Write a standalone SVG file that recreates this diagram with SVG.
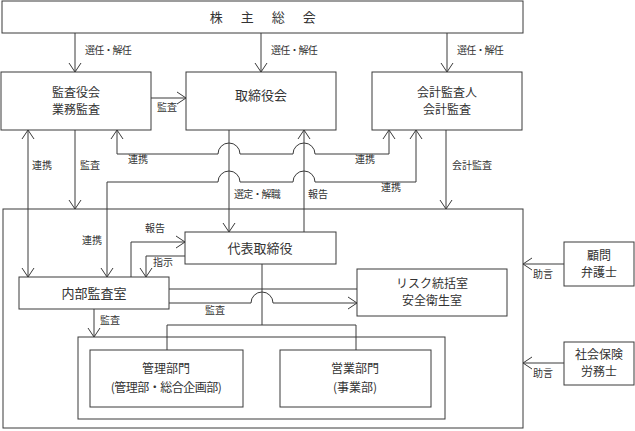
<svg xmlns="http://www.w3.org/2000/svg" width="635" height="431" viewBox="0 0 635 431">
<defs>
<style>
.box{fill:#fff;stroke:#3a3a3a;stroke-width:1}
.ln{fill:none;stroke:#3a3a3a;stroke-width:1}
.t{font-family:"Noto Sans CJK JP","Noto Sans CJK SC",sans-serif;font-size:13px;fill:#333;text-anchor:middle}
.t2{font-family:"Noto Sans CJK JP","Noto Sans CJK SC",sans-serif;font-size:12px;fill:#333;text-anchor:middle}
.s{font-family:"Noto Sans CJK JP","Noto Sans CJK SC",sans-serif;font-size:10px;fill:#333}
.n{letter-spacing:-0.8px}
</style>
<marker id="a" viewBox="-10 -7 11 14" refX="0" refY="0" markerWidth="11" markerHeight="14" markerUnits="userSpaceOnUse" orient="auto-start-reverse">
<path d="M-9,-6 L0,0 L-9,6" fill="none" stroke="#3a3a3a" stroke-width="1"/>
</marker>
</defs>
<rect width="635" height="431" fill="#fff"/>

<g id="outer"><rect class="box" x="3" y="209" width="520" height="219"/></g>
<g id="container"><rect class="box" x="78" y="337" width="367" height="82"/></g>

<g id="connectors">
<path class="ln" d="M75,33 V72" marker-end="url(#a)"/>
<path class="ln" d="M261,33 V72" marker-end="url(#a)"/>
<path class="ln" d="M447,33 V72" marker-end="url(#a)"/>
<path class="ln" d="M151,98 H186" marker-end="url(#a)"/>
<path class="ln" d="M28,130 V277" marker-start="url(#a)" marker-end="url(#a)"/>
<path class="ln" d="M75,130 V209" marker-end="url(#a)"/>
<path class="ln" d="M117,130 V154 H218 A11,11 0 0 1 240,154 H293 A11,11 0 0 1 315,154 H389 V130" marker-start="url(#a)" marker-end="url(#a)"/>
<path class="ln" d="M107,277 V182 H218 A11,11 0 0 1 240,182 H293 A11,11 0 0 1 315,182 H416 V130" marker-start="url(#a)" marker-end="url(#a)"/>
<path class="ln" d="M446,130 V209" marker-end="url(#a)"/>
<path class="ln" d="M229,130 V232" marker-end="url(#a)"/>
<path class="ln" d="M304,232 V130" marker-end="url(#a)"/>
<path class="ln" d="M131,277 V242 H185" marker-end="url(#a)"/>
<path class="ln" d="M185,256 H146 V277" marker-end="url(#a)"/>
<path class="ln" d="M169,289 H357"/>
<path class="ln" d="M169,303 H251 A11,11 0 0 1 273,303 H357" marker-end="url(#a)"/>
<path class="ln" d="M262,264 V325"/>
<path class="ln" d="M167,350 V325 H356 V350"/>
<path class="ln" d="M94,309 V337" marker-end="url(#a)"/>
<path class="ln" d="M564,264 H523" marker-end="url(#a)"/>
<path class="ln" d="M564,363 H523" marker-end="url(#a)"/>
</g>

<g id="labels">
<text class="s n" x="85" y="54">選任・解任</text>
<text class="s n" x="271" y="54">選任・解任</text>
<text class="s n" x="457" y="54">選任・解任</text>
<text class="s" x="157" y="111">監査</text>
<text class="s" x="32" y="169">連携</text>
<text class="s" x="80" y="169">監査</text>
<text class="s" x="128" y="163">連携</text>
<text class="s" x="355" y="163">連携</text>
<text class="s" x="452" y="169">会計監査</text>
<text class="s" x="381" y="191">連携</text>
<text class="s n" x="234" y="198">選定・解職</text>
<text class="s" x="308" y="198">報告</text>
<text class="s" x="82" y="244">連携</text>
<text class="s" x="145" y="232">報告</text>
<text class="s" x="153" y="266">指示</text>
<text class="s" x="205" y="314">監査</text>
<text class="s" x="100" y="324">監査</text>
<text class="s" x="533" y="278">助言</text>
<text class="s" x="533" y="377">助言</text>
</g>

<g id="shareholders"><rect class="box" x="2" y="1" width="521" height="32"/><text class="t" x="264" y="22" style="letter-spacing:2.5px">株　主　総　会</text></g>
<g id="kansayakukai"><rect class="box" x="1" y="72" width="150" height="58"/><text class="t2" x="76" y="97">監査役会</text><text class="t2" x="76" y="114">業務監査</text></g>
<g id="torishimariyakukai"><rect class="box" x="186" y="72" width="150" height="58"/><text class="t" x="261" y="100">取締役会</text></g>
<g id="kaikeikansanin"><rect class="box" x="372" y="72" width="150" height="58"/><text class="t2" x="447" y="97">会計監査人</text><text class="t2" x="447" y="114">会計監査</text></g>
<g id="daihyo"><rect class="box" x="185" y="232" width="151" height="32"/><text class="t" x="260" y="253">代表取締役</text></g>
<g id="naibukansa"><rect class="box" x="19" y="277" width="150" height="32"/><text class="t" x="94" y="298">内部監査室</text></g>
<g id="risk"><rect class="box" x="357" y="269" width="150" height="47"/><text class="t2" x="432" y="288">リスク統括室</text><text class="t2" x="432" y="305">安全衛生室</text></g>
<g id="kanri"><rect class="box" x="90" y="350" width="153" height="57"/><text class="t2" x="166" y="373">管理部門</text><text class="t2" x="166" y="392" style="letter-spacing:-0.5px">(管理部・総合企画部)</text></g>
<g id="eigyo"><rect class="box" x="280" y="350" width="151" height="57"/><text class="t2" x="355" y="373">営業部門</text><text class="t2" x="355" y="392">(事業部)</text></g>
<g id="bengoshi"><rect class="box" x="564" y="242" width="70" height="44"/><text class="t2" x="599" y="260">顧問</text><text class="t2" x="599" y="277">弁護士</text></g>
<g id="sharoshi"><rect class="box" x="564" y="342" width="70" height="43"/><text class="t2" x="599" y="359">社会保険</text><text class="t2" x="599" y="376">労務士</text></g>
</svg>
